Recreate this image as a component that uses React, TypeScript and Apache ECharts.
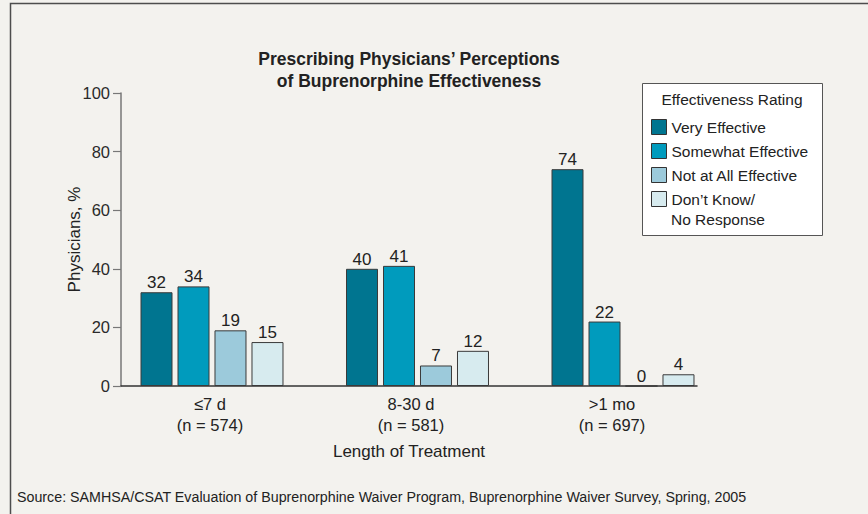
import React, { useEffect, useRef } from 'react';
import * as echarts from 'echarts';

const categories = ['≤7 d\n(n = 574)', '8-30 d\n(n = 581)', '>1 mo\n(n = 697)'];
const seriesNames = ['Very Effective', 'Somewhat Effective', 'Not at All Effective', 'Don’t Know/ No Response'];
const legendLines = ['Very Effective', 'Somewhat Effective', 'Not at All Effective', 'Don’t Know/'];
const legendExtraLine = 'No Response';
const veryEffective = [32, 40, 74];
const somewhatEffective = [34, 41, 22];
const notAtAllEffective = [19, 7, 0];
const dontKnow = [15, 12, 4];
const yMin = 0;
const yMax = 100;
const yInterval = 20;
const colors = ['#007590', '#009bbd', '#9ccadb', '#d7ebef'];
const titleText = 'Prescribing Physicians’ Perceptions\nof Buprenorphine Effectiveness';
const legendTitle = 'Effectiveness Rating';
const xName = 'Length of Treatment';
const yName = 'Physicians, %';
const sourceText = 'Source: SAMHSA/CSAT Evaluation of Buprenorphine Waiver Program, Buprenorphine Waiver Survey, Spring, 2005';

const FONT = '"Liberation Sans", Arial, Helvetica, sans-serif';

export default function App() {
  const ref = useRef<HTMLDivElement>(null);
  useEffect(() => {
    document.body.style.margin = '0';
    if (!ref.current) return;
    const chart = echarts.init(ref.current, undefined, { renderer: 'svg' });
    const values = [veryEffective, somewhatEffective, notAtAllEffective, dontKnow];
    const gridTop = 93;
    const gridHeight = 293;
    chart.setOption({
      animation: false,
      backgroundColor: '#f3f2ee',
      textStyle: { fontFamily: FONT, color: '#222' },
      title: {
        text: titleText,
        left: 409,
        top: 48,
        textAlign: 'center',
        padding: 0,
        textStyle: { fontSize: 17.5, fontWeight: 'bold', lineHeight: 22, color: '#222', fontFamily: FONT },
      },
      grid: [
        { left: 121, top: gridTop, width: 576, height: gridHeight },
        { left: 109.25, top: gridTop, width: 616.5, height: gridHeight },
        { left: 109.5, top: gridTop, width: 603, height: gridHeight },
      ],
      xAxis: [
        {
          gridIndex: 0, type: 'value', min: 0, max: 1,
          axisLine: { show: true, lineStyle: { color: '#333', width: 1.5 } },
          axisTick: { show: false }, axisLabel: { show: false }, splitLine: { show: false },
          name: xName, nameLocation: 'middle', nameGap: 57,
          nameTextStyle: { fontSize: 17, color: '#222', fontFamily: FONT },
        },
        { gridIndex: 1, type: 'category', data: categories, show: false },
        {
          gridIndex: 2, type: 'category', data: categories,
          axisLine: { show: false }, axisTick: { show: false }, splitLine: { show: false },
          axisLabel: { show: true, fontSize: 16.5, lineHeight: 21, margin: 7, color: '#222', fontFamily: FONT },
        },
      ],
      yAxis: [
        {
          gridIndex: 0, type: 'value', min: yMin, max: yMax, interval: yInterval,
          axisLine: { show: true, lineStyle: { color: '#777', width: 1.5 } },
          axisTick: { show: true, inside: false, length: 8, lineStyle: { color: '#777', width: 1.2 } },
          axisLabel: { fontSize: 16.5, color: '#2a2a2a', margin: 11, fontFamily: FONT },
          splitLine: { show: false },
          name: yName, nameLocation: 'middle', nameGap: 38, nameMoveOverlap: false,
          nameTextStyle: { fontSize: 17, color: '#222', fontFamily: FONT },
        },
        { gridIndex: 1, type: 'value', min: yMin, max: yMax, interval: yInterval, show: false },
        { gridIndex: 2, type: 'value', min: yMin, max: yMax, interval: yInterval, show: false },
      ],
      legend: {
        orient: 'vertical',
        left: 651,
        top: 116.5,
        padding: 0,
        itemWidth: 15,
        itemHeight: 15,
        itemGap: 3,
        icon: 'rect',
        selectedMode: false,
        z: 5,
        itemStyle: { borderColor: '#333', borderWidth: 1 },
        textStyle: { fontSize: 15.5, lineHeight: 21, color: '#222', fontFamily: FONT },
        formatter: (name: string) => legendLines[seriesNames.indexOf(name)] ?? name,
        data: seriesNames,
      },
      graphic: [
        {
          type: 'polyline', silent: true, z: 0,
          shape: { points: [[10.5, 514], [10.5, 3.5], [868, 3.5]] },
          style: { stroke: '#4d4d4d', lineWidth: 1.5, fill: 'none' },
        },
        {
          type: 'rect', silent: true, z: 1,
          shape: { x: 642.5, y: 83.5, width: 180, height: 152 },
          style: { fill: '#ffffff', stroke: '#555', lineWidth: 1 },
        },
        {
          type: 'text', silent: true, z: 2, x: 732, y: 99,
          style: { text: legendTitle, align: 'center', verticalAlign: 'middle', fontSize: 15.5, fill: '#222', fontFamily: FONT },
        },
        {
          type: 'text', silent: true, z: 6, x: 671, y: 219,
          style: { text: legendExtraLine, align: 'left', verticalAlign: 'middle', fontSize: 15.5, fill: '#222', fontFamily: FONT },
        },
        {
          type: 'text', silent: true, z: 2, x: 17, y: 497,
          style: { text: sourceText, align: 'left', verticalAlign: 'middle', fontSize: 14.25, fill: '#222', fontFamily: FONT },
        },
      ],
      series: seriesNames.map((n, i) => ({
        name: n,
        type: 'bar',
        xAxisIndex: 1,
        yAxisIndex: 1,
        data: values[i],
        barWidth: 32,
        barGap: '15.6%',
        itemStyle: { color: colors[i], borderColor: '#3a3a3a', borderWidth: 1 },
        label: { show: true, position: 'top', distance: 1, fontSize: 17, color: '#222', fontFamily: FONT },
      })),
    });
    return () => chart.dispose();
  }, []);
  return <div ref={ref} style={{ width: 868, height: 514 }} />;
}
